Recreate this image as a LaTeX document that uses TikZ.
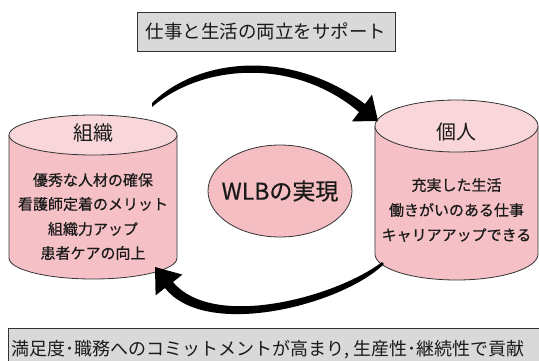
\documentclass[tikz,border=0pt]{standalone}
\usepackage{fontspec}
\setmainfont{Noto Sans CJK JP}
\newfontfamily\heavyjp{Noto Sans CJK JP}[FakeBold=0.6]
\definecolor{capc}{HTML}{F8D6D9}
\definecolor{bodyc}{HTML}{F5C1C6}
\definecolor{wlbc}{HTML}{F4BEC2}
\definecolor{boxc}{HTML}{D9D9D9}
\definecolor{linec}{HTML}{333333}
\definecolor{txtc}{HTML}{1A1A1A}
\begin{document}
\begin{tikzpicture}[x=1pt,y=-1pt,
  outl/.style={draw=linec,line width=0.8pt},
  ttl/.style={text=txtc,font=\fontsize{20}{24}\selectfont,inner sep=0pt},
  bodytxt/.style={text=txtc,font=\heavyjp\fontsize{15}{18}\selectfont,inner sep=0pt},
  boxtxt/.style={text=txtc,inner sep=0pt},
  arrowfill/.style={fill=black}]
\useasboundingbox (0,0) rectangle (539,360);

% top box
\filldraw[fill=boxc,draw=linec,line width=0.8pt] (137,12) rectangle (395,51);
\node[boxtxt,font=\fontsize{18.5}{22}\selectfont] (top) at (266,31.5) {仕事と生活の両立をサポート};

% bottom box
\filldraw[fill=boxc,draw=linec,line width=0.8pt] (8,328) rectangle (548,370);
\node[boxtxt,anchor=west,font=\fontsize{18}{22}\selectfont] (bot) at (11,350) {満足度･職務へのコミットメントが高まり, 生産性･継続性で貢献};

% left cylinder
\fill[bodyc] (9,135) rectangle (177,258);
\fill[bodyc] (93,258) ellipse[x radius=84pt,y radius=21pt];
\draw[outl] (9,135) -- (9,258) arc[start angle=180,end angle=360,x radius=84pt,y radius=21pt] -- (177,135);
\filldraw[fill=capc,outl] (93,135) ellipse[x radius=84pt,y radius=20pt];
\node[ttl] (org) at (93,133) {組織};
\node[bodytxt] (o1) at (93,180) {優秀な人材の確保};
\node[bodytxt] (o2) at (93,204) {看護師定着のメリット};
\node[bodytxt] (o3) at (93,229) {組織力アップ};
\node[bodytxt] (o4) at (93,253) {患者ケアの向上};

% right cylinder
\fill[bodyc] (375,126) rectangle (538,254);
\fill[bodyc] (456.5,254) ellipse[x radius=81.5pt,y radius=26pt];
\draw[outl] (375,126) -- (375,254) arc[start angle=180,end angle=360,x radius=81.5pt,y radius=26pt] -- (538,126);
\filldraw[fill=capc,outl] (456.5,126) ellipse[x radius=81.5pt,y radius=26pt];
\node[ttl] (ind) at (456.5,132) {個人};
\node[bodytxt] (i1) at (456.5,185) {充実した生活};
\node[bodytxt] (i2) at (456.5,210) {働きがいのある仕事};
\node[bodytxt] (i3) at (456.5,235) {キャリアアップできる};

% center ellipse
\filldraw[fill=wlbc,outl] (280,191) ellipse[x radius=72pt,y radius=46pt];
\node[text=txtc,font=\heavyjp\fontsize{23}{27}\selectfont,inner sep=0pt] (wlb) at (280,191) {WLBの実現};

% top arrow (tapered)
\coordinate (ta0) at (152,103);
\coordinate (ta1) at (152,107);
\coordinate (taO) at (365,104);
\coordinate (taI) at (359,112);
\coordinate (taC1) at (372,94.6);
\coordinate (taC2) at (352,121.4);
\coordinate (taT) at (378,121);
\fill[arrowfill] (ta0) .. controls (198,58) and (290,48) .. (taO) -- (taC1) -- (taT) -- (taC2) -- (taI) .. controls (294,57) and (202,64) .. (ta1) -- cycle;

% bottom arrow (tapered)
\coordinate (ba0) at (384,264);
\coordinate (ba1) at (382,262);
\coordinate (baO) at (165,288);
\coordinate (baI) at (173,282);
\coordinate (baC1) at (155.6,295.4);
\coordinate (baC2) at (182.4,274.6);
\coordinate (baT) at (155,267);
\fill[arrowfill] (ba0) .. controls (342,305) and (206,340) .. (baO) -- (baC1) -- (baT) -- (baC2) -- (baI) .. controls (214,331) and (338,296) .. (ba1) -- cycle;
\end{tikzpicture}
\end{document}
